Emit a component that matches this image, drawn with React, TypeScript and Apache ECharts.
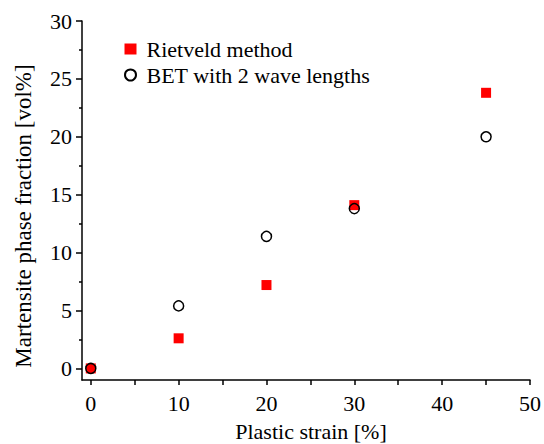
import React, { useEffect, useRef } from "react";
import * as echarts from "echarts";

const strainRietveld = [0, 10, 20, 30, 45];
const rietveldValues = [0, 2.6, 7.2, 14.1, 23.8];
const strainBET = [0, 10, 20, 30, 45];
const betValues = [0, 5.4, 11.4, 13.8, 20.0];
const xMajorTicks = [0, 10, 20, 30, 40, 50];
const xMinorTicks = [5, 15, 25, 35, 45];
const yMajorTicks = [0, 5, 10, 15, 20, 25, 30];
const yMinorTicks = [2.5, 7.5, 12.5, 17.5, 22.5, 27.5];

const FONT = "Liberation Serif";

export default function App() {
  const ref = useRef<HTMLDivElement>(null);
  useEffect(() => {
    if (!ref.current) return;
    const chart = echarts.init(ref.current, undefined, { renderer: "svg" });
    const axisLine = { show: true, onZero: false, lineStyle: { color: "#000", width: 1.5 } };
    const xBase = { type: "value", min: -1, max: 50, splitLine: { show: false } };
    const yBase = { type: "value", min: -1, max: 30, splitLine: { show: false } };
    chart.setOption({
      animation: false,
      backgroundColor: "#fff",
      grid: { left: 82, top: 21, right: 14, bottom: 64, containLabel: false, outerBoundsMode: "none" },
      legend: {
        orient: "vertical",
        left: 119,
        top: 33,
        itemWidth: 12,
        itemHeight: 11,
        itemGap: 4,
        textStyle: { fontFamily: FONT, fontSize: 22, color: "#000", padding: [0, 0, 0, 5] },
        data: [
          { name: "Rietveld method", icon: "rect" },
          { name: "BET with 2 wave lengths", icon: "circle" },
        ],
      },
      graphic: [
        {
          type: "text",
          x: 23,
          y: 216,
          rotation: Math.PI / 2,
          style: {
            text: "Martensite phase fraction [vol%]",
            fontFamily: FONT,
            fontSize: 23,
            fill: "#000",
            textAlign: "center",
            textVerticalAlign: "middle",
          },
        },
      ],
      xAxis: [
        {
          ...xBase,
          position: "bottom",
          name: "Plastic strain [%]",
          nameLocation: "middle",
          nameGap: 40,
          nameTextStyle: { fontFamily: FONT, fontSize: 22, color: "#000", padding: [0, 0, 0, 10] },
          axisLine,
          axisTick: { show: true, customValues: xMajorTicks, length: 5, lineStyle: { color: "#000", width: 1.5 } },
          axisLabel: { customValues: xMajorTicks, fontFamily: FONT, fontSize: 22, color: "#000", margin: 12 },
        },
        {
          ...xBase,
          position: "bottom",
          axisLine: { show: false, onZero: false },
          axisTick: { show: true, customValues: xMinorTicks, length: 5, lineStyle: { color: "#000", width: 1.5 } },
          axisLabel: { show: false },
        },
      ],
      yAxis: [
        {
          ...yBase,
          position: "left",
          axisLine,
          axisTick: { show: true, customValues: yMajorTicks, length: 6, lineStyle: { color: "#000", width: 1.5 } },
          axisLabel: { customValues: yMajorTicks, fontFamily: FONT, fontSize: 22, color: "#000", margin: 10 },
        },
        {
          ...yBase,
          position: "left",
          axisLine: { show: false, onZero: false },
          axisTick: { show: true, customValues: yMinorTicks, length: 3, lineStyle: { color: "#000", width: 1.5 } },
          axisLabel: { show: false },
        },
      ],
      series: [
        {
          name: "Rietveld method",
          type: "scatter",
          symbol: "rect",
          symbolSize: 10,
          itemStyle: { color: "#ff0000", opacity: 1 },
          data: strainRietveld.map((x, i) => [x, rietveldValues[i]]),
          z: 2,
        },
        {
          name: "BET with 2 wave lengths",
          type: "scatter",
          symbol: "circle",
          symbolSize: 10,
          itemStyle: { color: "rgba(0,0,0,0)", borderColor: "#000", borderWidth: 1.5, opacity: 1 },
          data: strainBET.map((x, i) => [x, betValues[i]]),
          z: 3,
        },
      ],
    });
    return () => chart.dispose();
  }, []);
  return <div ref={ref} style={{ width: 544, height: 444, position: "absolute", left: 0, top: 0 }} />;
}
